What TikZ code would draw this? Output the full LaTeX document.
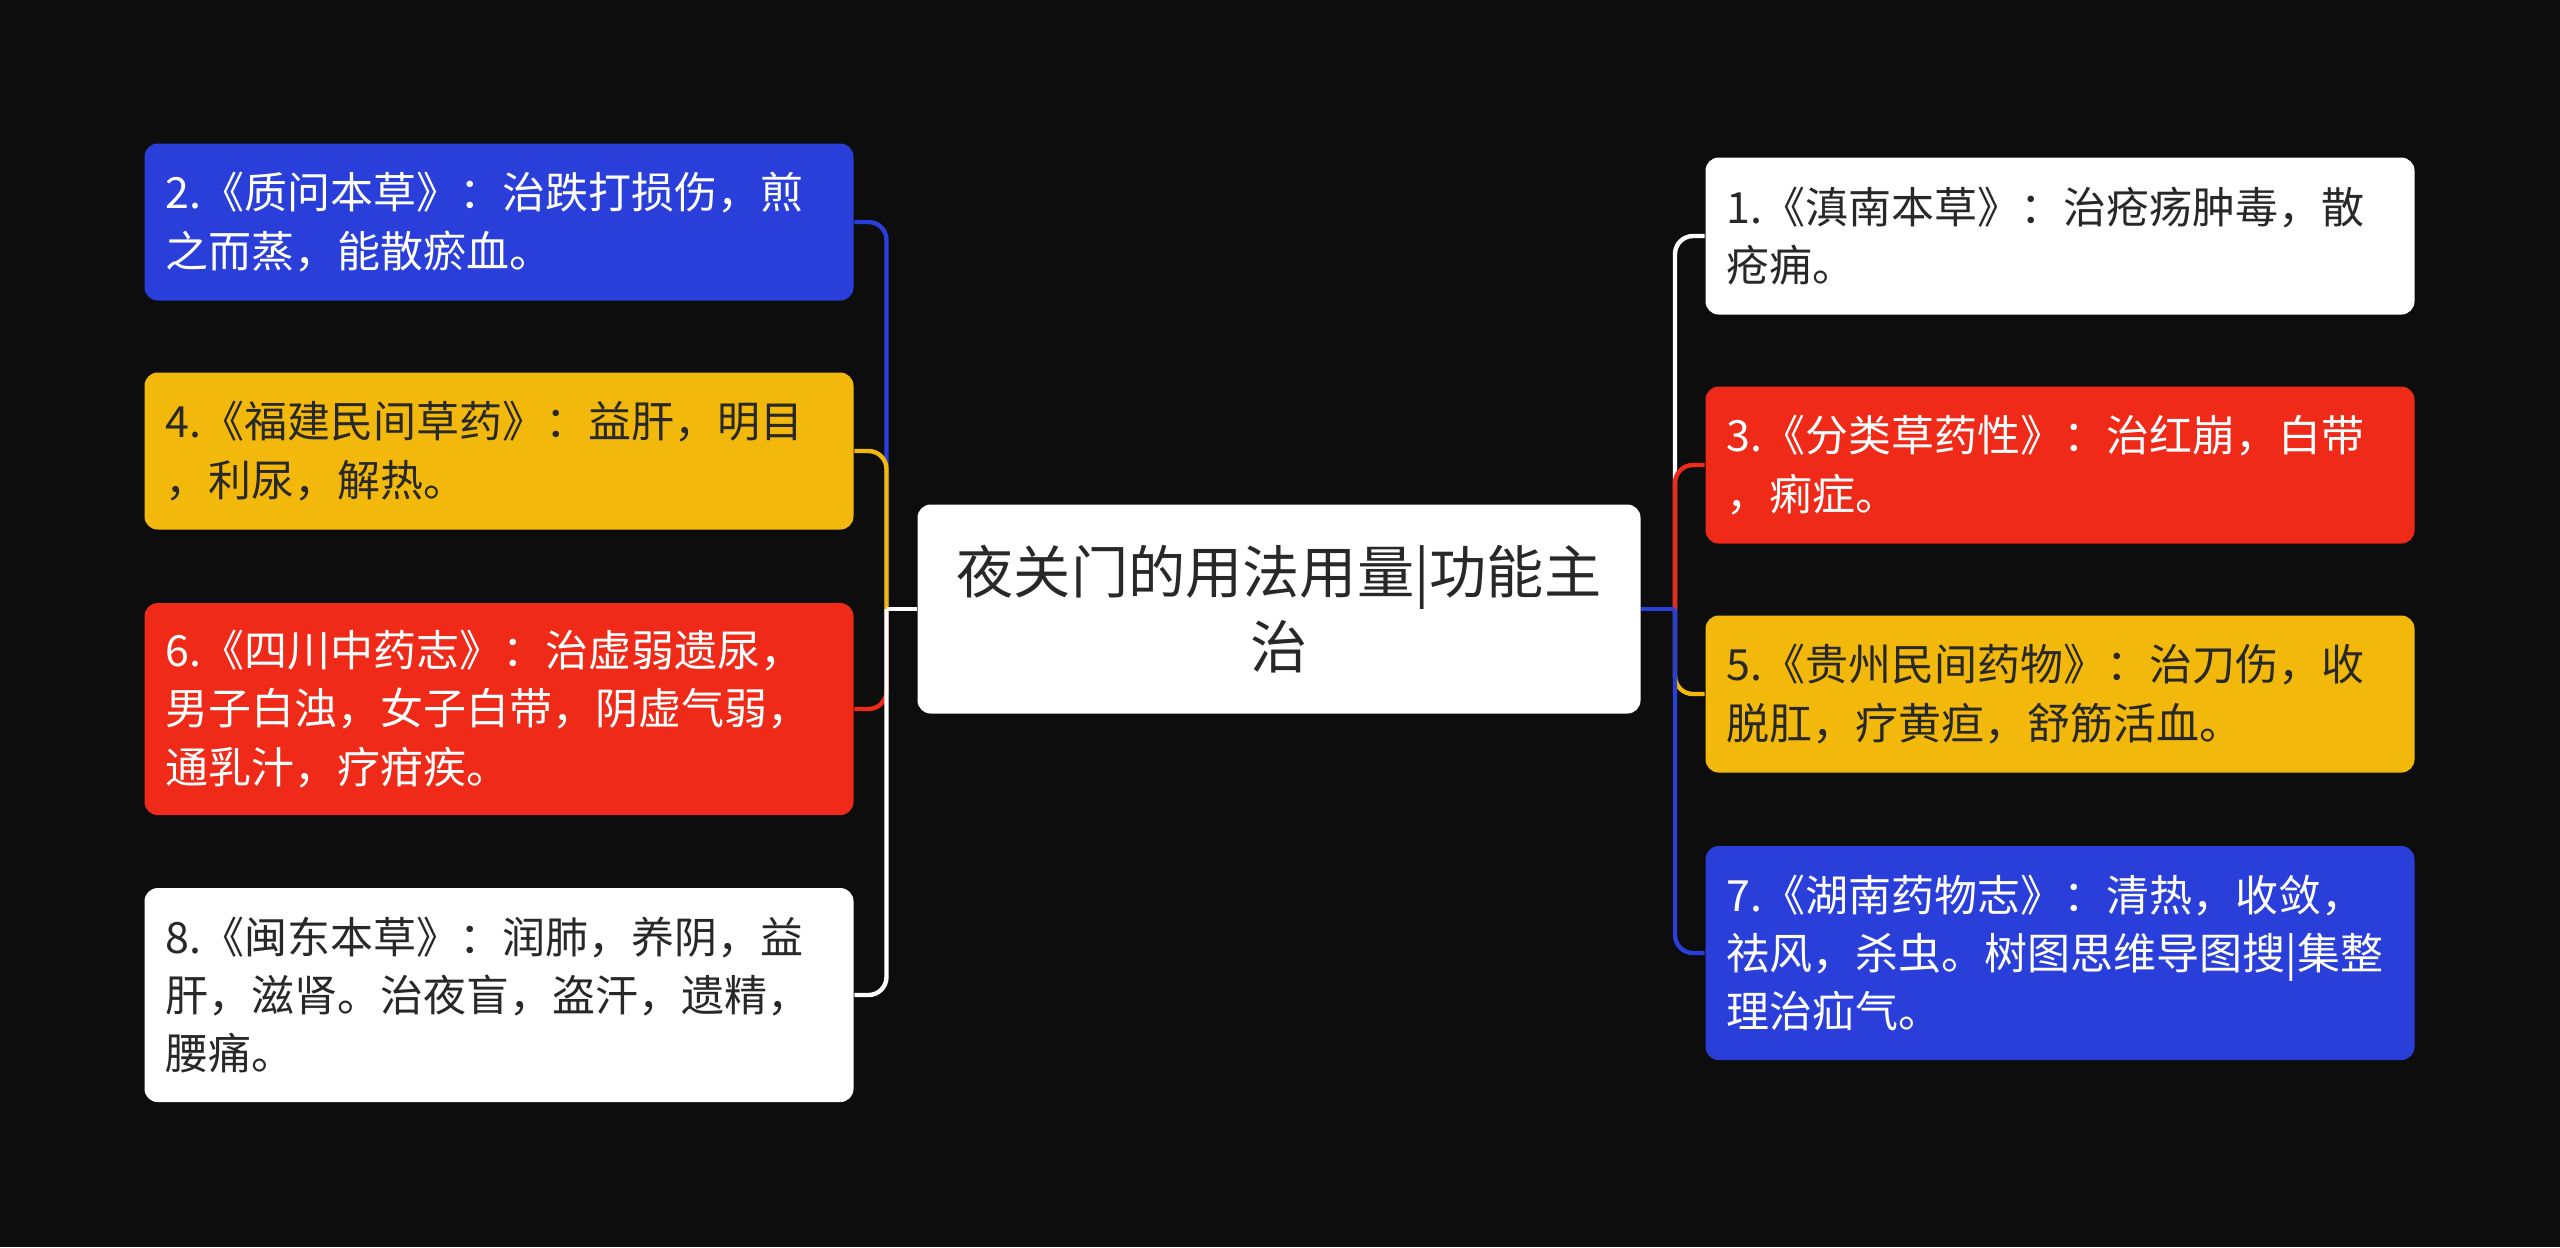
\documentclass[tikz,border=0pt]{standalone}
\usepackage{fontspec}
\newfontfamily\cjk{Noto Sans CJK SC}
\definecolor{fondo}{RGB}{13,13,13}
\definecolor{azul}{RGB}{42,63,217}
\definecolor{amarillo}{RGB}{242,185,12}
\definecolor{rojo}{RGB}{239,42,24}
\definecolor{tinta}{RGB}{40,40,40}
\tikzset{
  ramo/.style={rectangle,rounded corners=3.3pt,inner xsep=5.25pt,inner ysep=0pt,
    text width=166.75pt,align=left,minimum height=39.25pt,
    font=\cjk\fontsize{10.75pt}{14.6pt}\selectfont},
  ramoazul/.style={ramo,fill=azul,text=white},
  ramoamar/.style={ramo,fill=amarillo,text=tinta},
  ramorojo/.style={ramo,fill=rojo,text=white},
  ramoblanco/.style={ramo,fill=white,text=tinta},
  tema/.style={rectangle,rounded corners=3.3pt,fill=white,text=tinta,align=center,
    minimum width=180.75pt,minimum height=52.25pt,
    font=\cjk\fontsize{14.3pt}{18.8pt}\selectfont},
  linea/.style={line width=1.1pt},
}
\begin{document}
\begin{tikzpicture}[x=0.25pt,y=-0.25pt]
    \fill[fondo] (0,0) rectangle (2560,1247);
    \node[tema] (t) at (1279,609) {夜关门的用法用量|功能主\\治};
    % izquierda
    \node[ramoazul] (r2) at (499,222) {2.《质问本草》：治跌打损伤，煎\\之而蒸，能散瘀血。};
    \node[ramoamar] (r4) at (499,451) {4.《福建民间草药》：益肝，明目\\，利尿，解热。};
    \node[ramorojo,minimum height=53pt] (r6) at (499,709) {6.《四川中药志》：治虚弱遗尿，\\男子白浊，女子白带，阴虚气弱，\\通乳汁，疗疳疾。};
    \node[ramoblanco,minimum height=53.5pt] (r8) at (499,995) {8.《闽东本草》：润肺，养阴，益\\肝，滋肾。治夜盲，盗汗，遗精，\\腰痛。};
    % derecha
    \node[ramoblanco] (r1) at (2060,236) {1.《滇南本草》：治疮疡肿毒，散\\疮痈。};
    \node[ramorojo] (r3) at (2060,465) {3.《分类草药性》：治红崩，白带\\，痢症。};
    \node[ramoamar] (r5) at (2060,694) {5.《贵州民间药物》：治刀伤，收\\脱肛，疗黄疸，舒筋活血。};
    \node[ramoazul,minimum height=53.5pt] (r7) at (2060,953) {7.《湖南药物志》：清热，收敛，\\祛风，杀虫。树图思维导图搜|集整\\理治疝气。};
    \coordinate (izq) at (886.5,609);
    \coordinate (der) at (1675,609);
    \draw[linea,azul] (t.west) -- (izq); \draw[linea,azul,rounded corners=4.5pt] (izq) |- (r2.east);
    \draw[linea,amarillo] (t.west) -- (izq); \draw[linea,amarillo,rounded corners=4.5pt] (izq) |- (r4.east);
    \draw[linea,rojo] (t.west) -- (izq); \draw[linea,rojo,rounded corners=4.5pt] (izq) |- (r6.east);
    \draw[linea,white] (t.west) -- (izq); \draw[linea,white,rounded corners=4.5pt] (izq) |- (r8.east);
    \draw[linea,white] (t.east) -- (der); \draw[linea,white,rounded corners=4.5pt] (der) |- (r1.west);
    \draw[linea,rojo] (t.east) -- (der); \draw[linea,rojo,rounded corners=4.5pt] (der) |- (r3.west);
    \draw[linea,amarillo] (t.east) -- (der); \draw[linea,amarillo,rounded corners=4.5pt] (der) |- (r5.west);
    \draw[linea,azul] (t.east) -- (der); \draw[linea,azul,rounded corners=4.5pt] (der) |- (r7.west);
  \end{tikzpicture}
\end{document}
